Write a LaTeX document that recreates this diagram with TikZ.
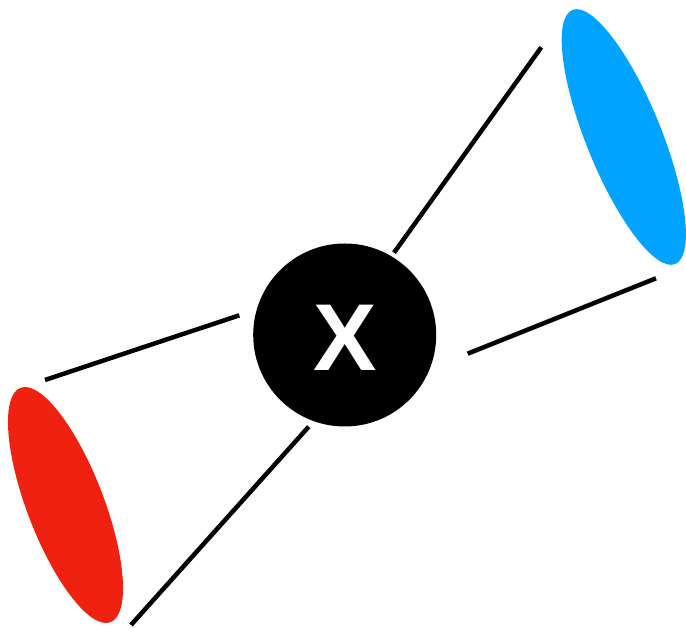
\documentclass[tikz,border=0pt]{standalone}
\usepackage{fontspec}
\setmainfont{Liberation Sans}
\usetikzlibrary{shapes.geometric}
\definecolor{redcone}{RGB}{239,34,17}
\definecolor{bluecone}{RGB}{0,163,255}
\begin{document}
\begin{tikzpicture}[x=1pt,y=1pt,
  rod/.style={line width=4.5pt, line cap=butt},
  cone/.style={ellipse, inner sep=0pt, draw=none}]
\useasboundingbox (0,0) rectangle (686,628);
\node[circle, fill=black, minimum size=183pt, inner sep=0pt] (c) at (344.7,293) {};
\node[anchor=base, text=white, inner sep=0pt] (x) at (345.5,257) {\fontsize{95}{95}\selectfont\bfseries X};
\node[cone, fill=redcone, minimum width=251pt, minimum height=76.8pt, rotate=-69] (r) at (65.5,123) {};
\node[cone, fill=bluecone, minimum width=274pt, minimum height=75.4pt, rotate=-68] (b) at (623.8,491) {};
\coordinate (a1) at (45,248);
\coordinate (a2) at (239.3,312.7);
\coordinate (b1) at (131,3);
\coordinate (b2) at (308.7,201.3);
\coordinate (c1) at (394,375.3);
\coordinate (c2) at (541.3,580.7);
\coordinate (d1) at (467.7,274.3);
\coordinate (d2) at (656,349.7);
\draw[rod] (a1) -- (a2);
\draw[rod] (b1) -- (b2);
\draw[rod] (c1) -- (c2);
\draw[rod] (d1) -- (d2);
\end{tikzpicture}
\end{document}
